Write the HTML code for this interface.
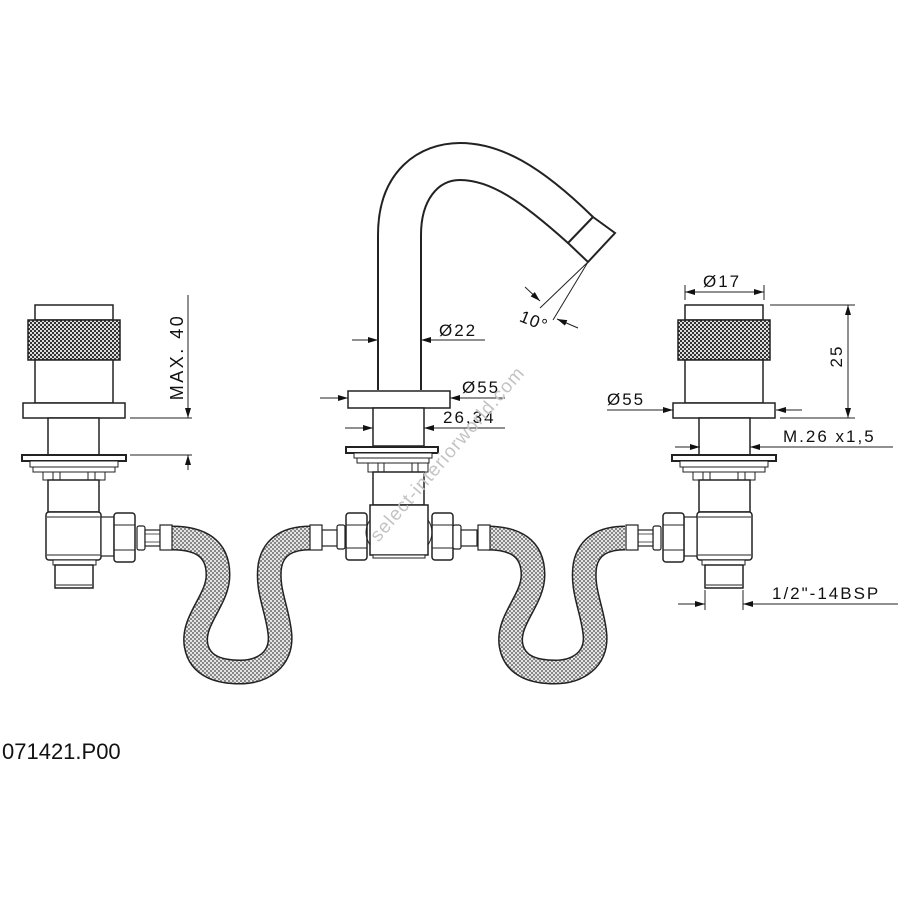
<!DOCTYPE html>
<html><head><meta charset="utf-8"><style>
html,body{margin:0;padding:0;background:#fff;width:900px;height:900px;overflow:hidden}
svg{display:block}
text{font-family:"Liberation Sans",sans-serif;fill:#111}
</style></head><body>
<svg width="900" height="900" viewBox="0 0 900 900" xmlns="http://www.w3.org/2000/svg">
<defs>
<pattern id="kn" width="4" height="4" patternUnits="userSpaceOnUse">
<rect width="4" height="4" fill="#ddd"/><rect width="2" height="2" fill="#333"/><rect x="2" y="2" width="2" height="2" fill="#333"/>
</pattern>
<pattern id="hs" width="4" height="4" patternUnits="userSpaceOnUse">
<rect width="4" height="4" fill="#e4e4e4"/><rect width="2" height="2" fill="#888"/><rect x="2" y="2" width="2" height="2" fill="#888"/>
</pattern>
<marker id="ar" viewBox="0 0 10 6" refX="10" refY="3" markerWidth="10" markerHeight="6" markerUnits="userSpaceOnUse" orient="auto"><path d="M0,0 L10,3 L0,6z" fill="#111"/></marker>
<g id="valve">
<rect x="35" y="305" width="78" height="15" fill="#fff" stroke="#222" stroke-width="1.5"/>
<rect x="28" y="320" width="92" height="40" fill="url(#kn)" stroke="#222" stroke-width="1.5"/>
<rect x="35" y="360" width="78" height="43" fill="#fff" stroke="#222" stroke-width="1.5"/>
<rect x="23" y="403" width="102" height="15" fill="#fff" stroke="#222" stroke-width="1.5"/>
<rect x="48" y="418" width="51" height="37" fill="#fff" stroke="#222" stroke-width="1.5"/>
<rect x="22" y="455" width="104" height="6" fill="#fff" stroke="#222" stroke-width="2"/>
<rect x="30" y="461" width="88" height="6" fill="#fff" stroke="#222" stroke-width="1"/>
<rect x="33" y="467" width="82" height="5" fill="#fff" stroke="#222" stroke-width="1"/>
<rect x="43" y="472" width="62" height="8" fill="#fff" stroke="#222" stroke-width="1"/>
<path d="M53,472v8M60,472v8M88,472v8M95,472v8" stroke="#222" stroke-width="1"/>
<rect x="48" y="480" width="51" height="32" fill="#fff" stroke="#222" stroke-width="1.5"/>
<rect x="46" y="512" width="55" height="48" rx="3" fill="#fff" stroke="#222" stroke-width="1.5"/>
<path d="M47,517h53M47,555h53" stroke="#222" stroke-width="1"/>
<rect x="53" y="560" width="43" height="5" fill="#fff" stroke="#222" stroke-width="1"/>
<rect x="55" y="565" width="38" height="23" fill="#fff" stroke="#222" stroke-width="1.5"/>
<path d="M56,585h36" stroke="#222" stroke-width="1"/>
</g>
<g id="fit">
<rect x="101" y="517" width="13" height="39" fill="#fff" stroke="#222" stroke-width="1.2"/>
<rect x="114" y="513" width="21" height="49" rx="3" fill="#fff" stroke="#222" stroke-width="1.5"/>
<path d="M114,525h21M114,550h21" stroke="#222" stroke-width="1"/>
<rect x="137" y="526" width="8" height="24" rx="2" fill="#fff" stroke="#222" stroke-width="1.2"/>
<rect x="145" y="530" width="15" height="16" fill="#fff" stroke="#222" stroke-width="1.2"/>
<path d="M145,534h15M145,542h15" stroke="#222" stroke-width="0.8"/>
<rect x="160" y="525" width="12" height="25" fill="#fff" stroke="#222" stroke-width="1.2"/>
</g>
<path id="hose" d="M172,538 C200,538 218,548 218,575 C218,600 192,620 196,645 C200,668 222,672 240,672 C262,672 282,660 280,635 C278,610 266,590 270,565 C274,545 290,538 310,538"/>
</defs>

<use href="#hose" stroke="#222" stroke-width="25" fill="none"/>
<use href="#hose" stroke="url(#hs)" stroke-width="22" fill="none"/>
<g transform="translate(315,0)">
<use href="#hose" stroke="#222" stroke-width="25" fill="none"/>
<use href="#hose" stroke="url(#hs)" stroke-width="22" fill="none"/>
</g>

<use href="#valve"/>
<use href="#fit"/>
<g transform="translate(798,0) scale(-1,1)"><use href="#valve"/><use href="#fit"/></g>

<path d="M378,390 V235 C378,170 420,143 460,143 C500,143 540,165 593,217" fill="none" stroke="#222" stroke-width="2"/>
<path d="M421,390 V235 C421,200 438,180 460,180 C490,180 520,200 568,243" fill="none" stroke="#222" stroke-width="2"/>
<path d="M593,217 L615,233 L588,262 L568,243 Z" fill="#fff" stroke="#222" stroke-width="2"/>
<rect x="348" y="391" width="102" height="17" fill="#fff" stroke="#222" stroke-width="1.5"/>
<rect x="373" y="408" width="51" height="38" fill="#fff" stroke="#222" stroke-width="1.5"/>
<rect x="346" y="447" width="92" height="6" fill="#fff" stroke="#222" stroke-width="2"/>
<rect x="354" y="453" width="78" height="5" fill="#fff" stroke="#222" stroke-width="1"/>
<rect x="357" y="458" width="72" height="5" fill="#fff" stroke="#222" stroke-width="1"/>
<rect x="368" y="463" width="60" height="9" fill="#fff" stroke="#222" stroke-width="1"/>
<path d="M378,463v9M384,463v9M412,463v9M418,463v9" stroke="#222" stroke-width="1"/>
<rect x="373" y="472" width="51" height="33" fill="#fff" stroke="#222" stroke-width="1.5"/>
<rect x="370" y="505" width="58" height="50" fill="#fff" stroke="#222" stroke-width="1.5"/>
<rect x="373" y="555" width="52" height="3" fill="#fff" stroke="#222" stroke-width="1"/>
<g transform="translate(-137,0)"><rect x="483" y="513" width="21" height="47" rx="3" fill="#fff" stroke="#222" stroke-width="1.5"/><path d="M483,525h21M483,548h21" stroke="#222"/><rect x="474" y="525" width="8" height="24" rx="2" fill="#fff" stroke="#222" stroke-width="1.2"/><rect x="459" y="530" width="15" height="16" fill="#fff" stroke="#222" stroke-width="1.2"/><rect x="447" y="525" width="12" height="25" fill="#fff" stroke="#222" stroke-width="1.2"/></g>
<rect x="432" y="513" width="21" height="47" rx="3" fill="#fff" stroke="#222" stroke-width="1.5"/><path d="M432,525h21M432,548h21" stroke="#222"/>
<rect x="453" y="525" width="8" height="24" rx="2" fill="#fff" stroke="#222" stroke-width="1.2"/>
<rect x="461" y="530" width="16" height="16" fill="#fff" stroke="#222" stroke-width="1.2"/>
<rect x="478" y="525" width="12" height="25" fill="#fff" stroke="#222" stroke-width="1.2"/>
<path d="M370,520 Q362,532 370,545 M428,520 Q436,532 428,545" fill="none" stroke="#222"/>

<g stroke="#222" stroke-width="1" fill="none">
<path d="M188,295 V418" marker-end="url(#ar)"/>
<path d="M130,418 H192 M130,455 H192"/>
<path d="M188,470 V455" marker-end="url(#ar)"/>
<path d="M352,340 H378" marker-end="url(#ar)"/>
<path d="M485,340 H421" marker-end="url(#ar)"/>
<path d="M320,398 H348" marker-end="url(#ar)"/>
<path d="M505,398 H450" marker-end="url(#ar)"/>
<path d="M345,428 H373" marker-end="url(#ar)"/>
<path d="M505,428 H424" marker-end="url(#ar)"/>
<path d="M588,262 L540,308 M588,262 L553,320"/>
<path d="M525,287 L540,301" marker-end="url(#ar)"/>
<path d="M578,328 L557,319" marker-end="url(#ar)"/>
<path d="M685,285 V300 M764,285 V300"/>
<path d="M725,292 H685" marker-end="url(#ar)"/>
<path d="M725,292 H764" marker-end="url(#ar)"/>
<path d="M770,305 H855 M780,418 H855"/>
<path d="M848,360 V305" marker-end="url(#ar)"/>
<path d="M848,360 V418" marker-end="url(#ar)"/>
<path d="M607,410 H673" marker-end="url(#ar)"/>
<path d="M802,410 H776" marker-end="url(#ar)"/>
<path d="M675,447 H700" marker-end="url(#ar)"/>
<path d="M893,447 H750" marker-end="url(#ar)"/>
<path d="M705,590 V610 M743,590 V610"/>
<path d="M678,604 H705" marker-end="url(#ar)"/>
<path d="M898,604 H743" marker-end="url(#ar)"/>
</g>
<text x="183" y="357" font-size="18" text-anchor="middle" transform="rotate(-90 183 357)" letter-spacing="2.5">MAX. 40</text>
<text x="439" y="336" font-size="17" letter-spacing="2">Ø22</text>
<text x="462" y="393" font-size="17" letter-spacing="2">Ø55</text>
<text x="443" y="423" font-size="17" letter-spacing="2">26,34</text>
<text x="520" y="327" font-size="17" letter-spacing="1" transform="rotate(22 535 320)">10°</text>
<text x="703" y="287" font-size="17" letter-spacing="2">Ø17</text>
<text x="842" y="356" font-size="17" text-anchor="middle" transform="rotate(-90 842 356)" letter-spacing="2">25</text>
<text x="607" y="405" font-size="17" letter-spacing="2">Ø55</text>
<text x="783" y="442" font-size="17" letter-spacing="2">M.26 x1,5</text>
<text x="772" y="599" font-size="17" letter-spacing="2">1/2"-14BSP</text>
<text x="2" y="759" font-size="22">071421.P00</text>
<text x="452" y="458" font-size="19" style="fill:#c4c4c4" text-anchor="middle" transform="rotate(-49 452 458)" letter-spacing="1">select-interiorworld.com</text>
</svg>
</body></html>
